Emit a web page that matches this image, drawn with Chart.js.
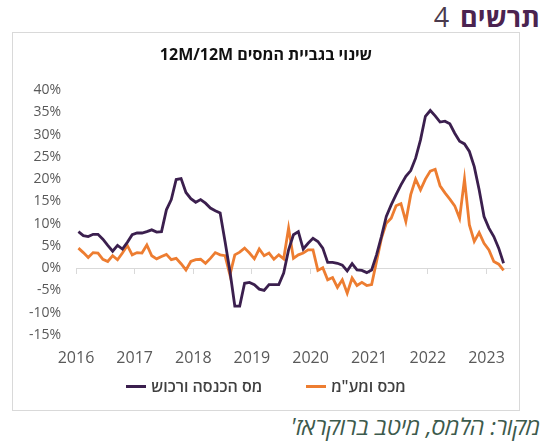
<!DOCTYPE html>
<html lang="he">
<head>
<meta charset="utf-8">
<script src="https://cdn.jsdelivr.net/npm/chart.js@4.4.1/dist/chart.umd.min.js"></script>
<style>
  body { margin: 0; width: 545px; height: 441px; background: #fff; position: relative; overflow: hidden; font-family: "Open Sans", sans-serif; }
  #heading { position: absolute; right: 5px; top: 0px; font-size: 27px; line-height: 34px; color: #4b2350; direction: rtl; white-space: nowrap; }
  #heading b { font-weight: 700; }
  #heading span { font-weight: 400; color: #4a3a4c; margin-right: 4px; }
  #box { position: absolute; left: 12px; top: 32px; width: 508px; height: 379px; border: 1px solid #d9d9d9; box-sizing: border-box; }
  #chartTitle { position: absolute; left: 0; width: 506px; top: 10px; text-align: center; font-size: 16px; font-weight: 700; color: #111; direction: rtl; }
  #grafico { position: absolute; left: 0; top: 0; }
  #legenda { position: absolute; left: 0; width: 506px; top: 342px; display: flex; justify-content: center; align-items: center; font-size: 16px; font-weight: 600; color: #404040; }
  .item { display: flex; align-items: center; margin: 0 22px; }
  .linha { width: 20px; height: 3px; margin-right: 5px; }
  #fonte { position: absolute; right: 5px; top: 411px; font-size: 23px; line-height: 30px; font-style: italic; color: #3d5a4c; direction: rtl; white-space: nowrap; }
</style>
</head>
<body>
<div id="heading"><b>תרשים</b> <span>4</span></div>
<div id="box">
  <canvas id="grafico" width="506" height="377"></canvas>
  <div id="chartTitle">שינוי בגביית המסים 12M/12M</div>
  <div id="legenda"></div>
</div>
<div id="fonte">מקור: הלמס, מיטב ברוקראז'</div>
<script>
// dados mensais, jan/2016 a abr/2023 (variacao 12M/12M, %)
var anoInicial = 2016;
var nomesSeries = ['מס הכנסה ורכוש', 'מכס ומע"מ'];
var coresSeries = ['#3b1f4e', '#ed7d31'];

var masHachnasa = [8.2, 7.3, 7.1, 7.6, 7.6, 6.5, 5.1, 3.8, 5.1, 4.3, 5.8, 7.5,
  7.9, 7.9, 8.2, 8.6, 8.1, 8.2, 13.1, 15.4, 19.9, 20.1, 17.0, 15.6,
  14.8, 15.4, 14.6, 13.5, 12.9, 12.4, 6.0, -0.7, -8.5, -8.5, -3.4, -3.2,
  -3.7, -4.7, -5.0, -3.7, -3.7, -3.7, -1.1, 4.1, 7.5, 8.2, 4.3, 5.6,
  6.7, 6.0, 4.5, 1.3, 1.3, 1.1, 0.7, -0.6, 1.0, -0.4, -0.5, -1.0,
  -0.4, 3.0, 7.1, 11.6, 14.2, 16.5, 18.7, 20.6, 21.9, 24.7, 28.8, 34.1,
  35.4, 34.2, 32.8, 33.0, 32.4, 30.3, 28.5, 27.9, 26.2, 22.8, 17.6, 11.6,
  9.0, 7.1, 4.5, 1.1];

var mechesMaam = [4.5, 3.5, 2.4, 3.5, 3.4, 2.0, 1.5, 2.8, 1.9, 3.4, 5.1, 3.0,
  3.5, 3.4, 5.2, 2.8, 2.1, 2.6, 3.1, 1.9, 2.2, 1.0, -0.4, 1.5,
  1.9, 2.0, 1.1, 2.2, 3.5, 3.0, 2.8, -1.5, 3.0, 3.6, 4.5, 3.4,
  2.1, 4.3, 2.8, 3.4, 2.0, 3.0, 2.1, 9.0, 2.2, 3.0, 3.4, 4.1,
  4.1, -0.5, 0.1, -2.6, -2.1, -4.3, -2.6, -5.6, -2.2, -3.9, -3.2, -3.9,
  -3.7, 1.5, 6.7, 10.1, 11.2, 14.0, 14.5, 10.5, 16.5, 20.0, 17.6, 20.0,
  21.8, 22.2, 18.5, 16.9, 15.5, 14.0, 11.2, 20.0, 9.7, 6.0, 8.0, 5.6,
  4.1, 1.5, 0.9, -0.5];

var anosEixo = [2016, 2017, 2018, 2019, 2020, 2021, 2022, 2023];
var eixoYMin = -15, eixoYMax = 40, eixoYPasso = 5;

// mes -> posicao no eixo (meio do mes)
function pontos(valores) {
  return valores.map(function (v, i) { return { x: anoInicial + (i + 0.5) / 12, y: v }; });
}

var xMax = anosEixo[anosEixo.length - 1] + 5 / 12;

var ctx = document.getElementById('grafico').getContext('2d');
var chart = new Chart(ctx, {
  type: 'line',
  data: {
    datasets: [
      { label: nomesSeries[0], data: pontos(masHachnasa), borderColor: coresSeries[0], borderWidth: 2.8, pointRadius: 0, tension: 0 },
      { label: nomesSeries[1], data: pontos(mechesMaam), borderColor: coresSeries[1], borderWidth: 2.8, pointRadius: 0, tension: 0 }
    ]
  },
  options: {
    responsive: false,
    animation: false,
    devicePixelRatio: 1,
    layout: { padding: { left: 12, right: 4, top: 57, bottom: 45 } },
    plugins: { legend: { display: false }, title: { display: false }, tooltip: { enabled: false } },
    scales: {
      x: {
        type: 'linear', min: anosEixo[0], max: xMax,
        grid: { display: false, drawTicks: false }, border: { display: false },
        ticks: { stepSize: 1, includeBounds: false, padding: 14, color: '#595959', font: { family: 'Open Sans', size: 16 },
          callback: function (v) { return anosEixo.indexOf(v) >= 0 ? String(v) : ''; } },
        afterFit: function (s) { s.height = 30; }
      },
      x0: {
        type: 'linear', position: { y: 0 }, min: anosEixo[0], max: xMax,
        ticks: { display: false, stepSize: 1, includeBounds: false },
        grid: { drawOnChartArea: false, drawTicks: true, tickLength: 5, color: '#d9d9d9' },
        border: { display: true, color: '#d9d9d9' }
      },
      y: {
        min: eixoYMin, max: eixoYMax,
        grid: { display: false, drawTicks: false }, border: { display: false },
        ticks: { stepSize: eixoYPasso, padding: 15, color: '#595959', font: { family: 'Open Sans', size: 14 },
          callback: function (v) { return v + '%'; } },
        afterFit: function (s) { s.width = 51; }
      }
    }
  }
});

// legenda (linha a esquerda do texto)
var legenda = document.getElementById('legenda');
nomesSeries.forEach(function (nome, k) {
  var item = document.createElement('div');
  item.className = 'item';
  item.innerHTML = '<span class="linha" style="background:' + coresSeries[k] + '"></span><span dir="rtl">' + nome + '</span>';
  legenda.appendChild(item);
});
</script>
</body>
</html>
